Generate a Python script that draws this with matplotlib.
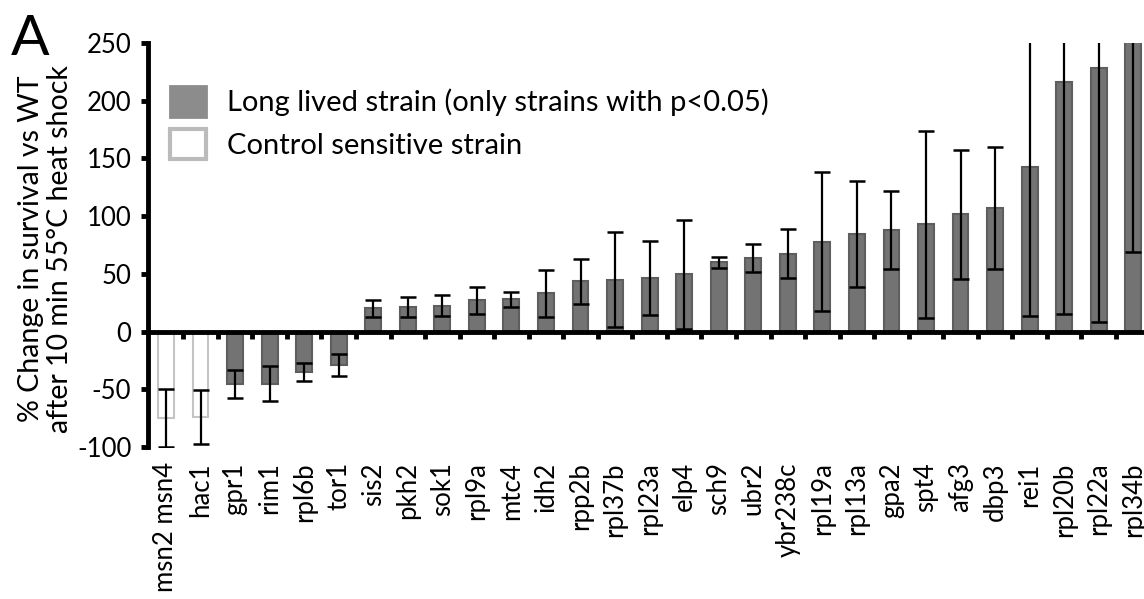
import numpy as np
import matplotlib.pyplot as plt
from matplotlib.patches import Patch

plt.rcParams['font.family'] = ['Lato', 'DejaVu Sans']
plt.rcParams['axes.unicode_minus'] = False

strains = ['msn2 msn4', 'hac1', 'gpr1', 'rim1', 'rpl6b', 'tor1', 'sis2', 'pkh2',
           'sok1', 'rpl9a', 'mtc4', 'idh2', 'rpp2b', 'rpl37b', 'rpl23a', 'elp4',
           'sch9', 'ubr2', 'ybr238c', 'rpl19a', 'rpl13a', 'gpa2', 'spt4', 'afg3',
           'dbp3', 'rei1', 'rpl20b', 'rpl22a', 'rpl34b']
change = [-75, -74, -45.5, -45, -35, -29, 20, 21.5, 22.5, 27, 28, 33, 43.5, 45,
          46.5, 49.5, 60, 63.5, 67.5, 78, 84.5, 88, 93, 101.5, 107, 142.5, 216,
          228, 290]
err = [25, 23, 12, 15, 8, 9.5, 7, 8.5, 9, 11.5, 6.5, 20, 19.5, 41, 32, 47, 5, 12,
       21, 60, 46, 33.5, 81, 56, 53, 129, 201, 220, 221]
is_control = [True, True] + [False] * 27

x = np.arange(len(strains))
face = ['white' if c else '#737373' for c in is_control]
edge = ['#c4c4c4' if c else '#5e5e5e' for c in is_control]

fig = plt.figure(figsize=(11.44, 5.99), dpi=100)
ax = fig.add_axes([148 / 1144, 1 - 447 / 599, 996 / 1144, 404 / 599])

ax.bar(x, change, width=0.46, color=face, edgecolor=edge, linewidth=1.5, zorder=2)
ax.errorbar(x, change, yerr=err, fmt='none', ecolor='black', elinewidth=1.6,
            capsize=5.8, capthick=1.8, zorder=3)

ax.set_xlim(-0.52, 28.31)
ax.set_ylim(-100, 250)
ax.set_yticks(np.arange(-100, 251, 50))

ax.spines['top'].set_visible(False)
ax.spines['right'].set_visible(False)
ax.spines['left'].set_linewidth(3.5)
ax.spines['bottom'].set_linewidth(3.5)
ax.spines['bottom'].set_position(('data', 0))
ax.spines['bottom'].set_zorder(4)

ax.set_xticks(x)
ax.set_xticklabels(strains, rotation=90, va='top', ha='center')
ax.set_xticks(x[:-1] + 0.5, minor=True)
ax.tick_params(axis='x', which='major', length=0, pad=94, labelsize=18.5)
ax.tick_params(axis='x', which='minor', direction='out', length=5, width=3.5)
ax.tick_params(axis='y', direction='out', length=5, width=3.5, pad=7, labelsize=18.5)

ax.set_ylabel('% Change in survival vs WT\nafter 10 min 55°C heat shock',
              fontsize=20.5, linespacing=1.15, labelpad=3)
ax.yaxis.label.set_y(0.49)

handles = [Patch(facecolor='#8c8c8c', edgecolor='#8c8c8c', linewidth=2),
           Patch(facecolor='white', edgecolor='#bbbbbb', linewidth=3)]
fig.legend(handles, ['Long lived strain (only strains with p<0.05)',
                     'Control sensitive strain'],
           loc='upper left', bbox_to_anchor=(170 / 1144, 1 - 86 / 599),
           frameon=False, fontsize=21, handlelength=1.25, handleheight=1.25,
           handletextpad=0.7, labelspacing=0.4, borderpad=0, borderaxespad=0)

fig.text(11 / 1144, 1 - 55 / 599, 'A', fontsize=41, va='baseline', ha='left')

fig.savefig('out.png', dpi=100)
